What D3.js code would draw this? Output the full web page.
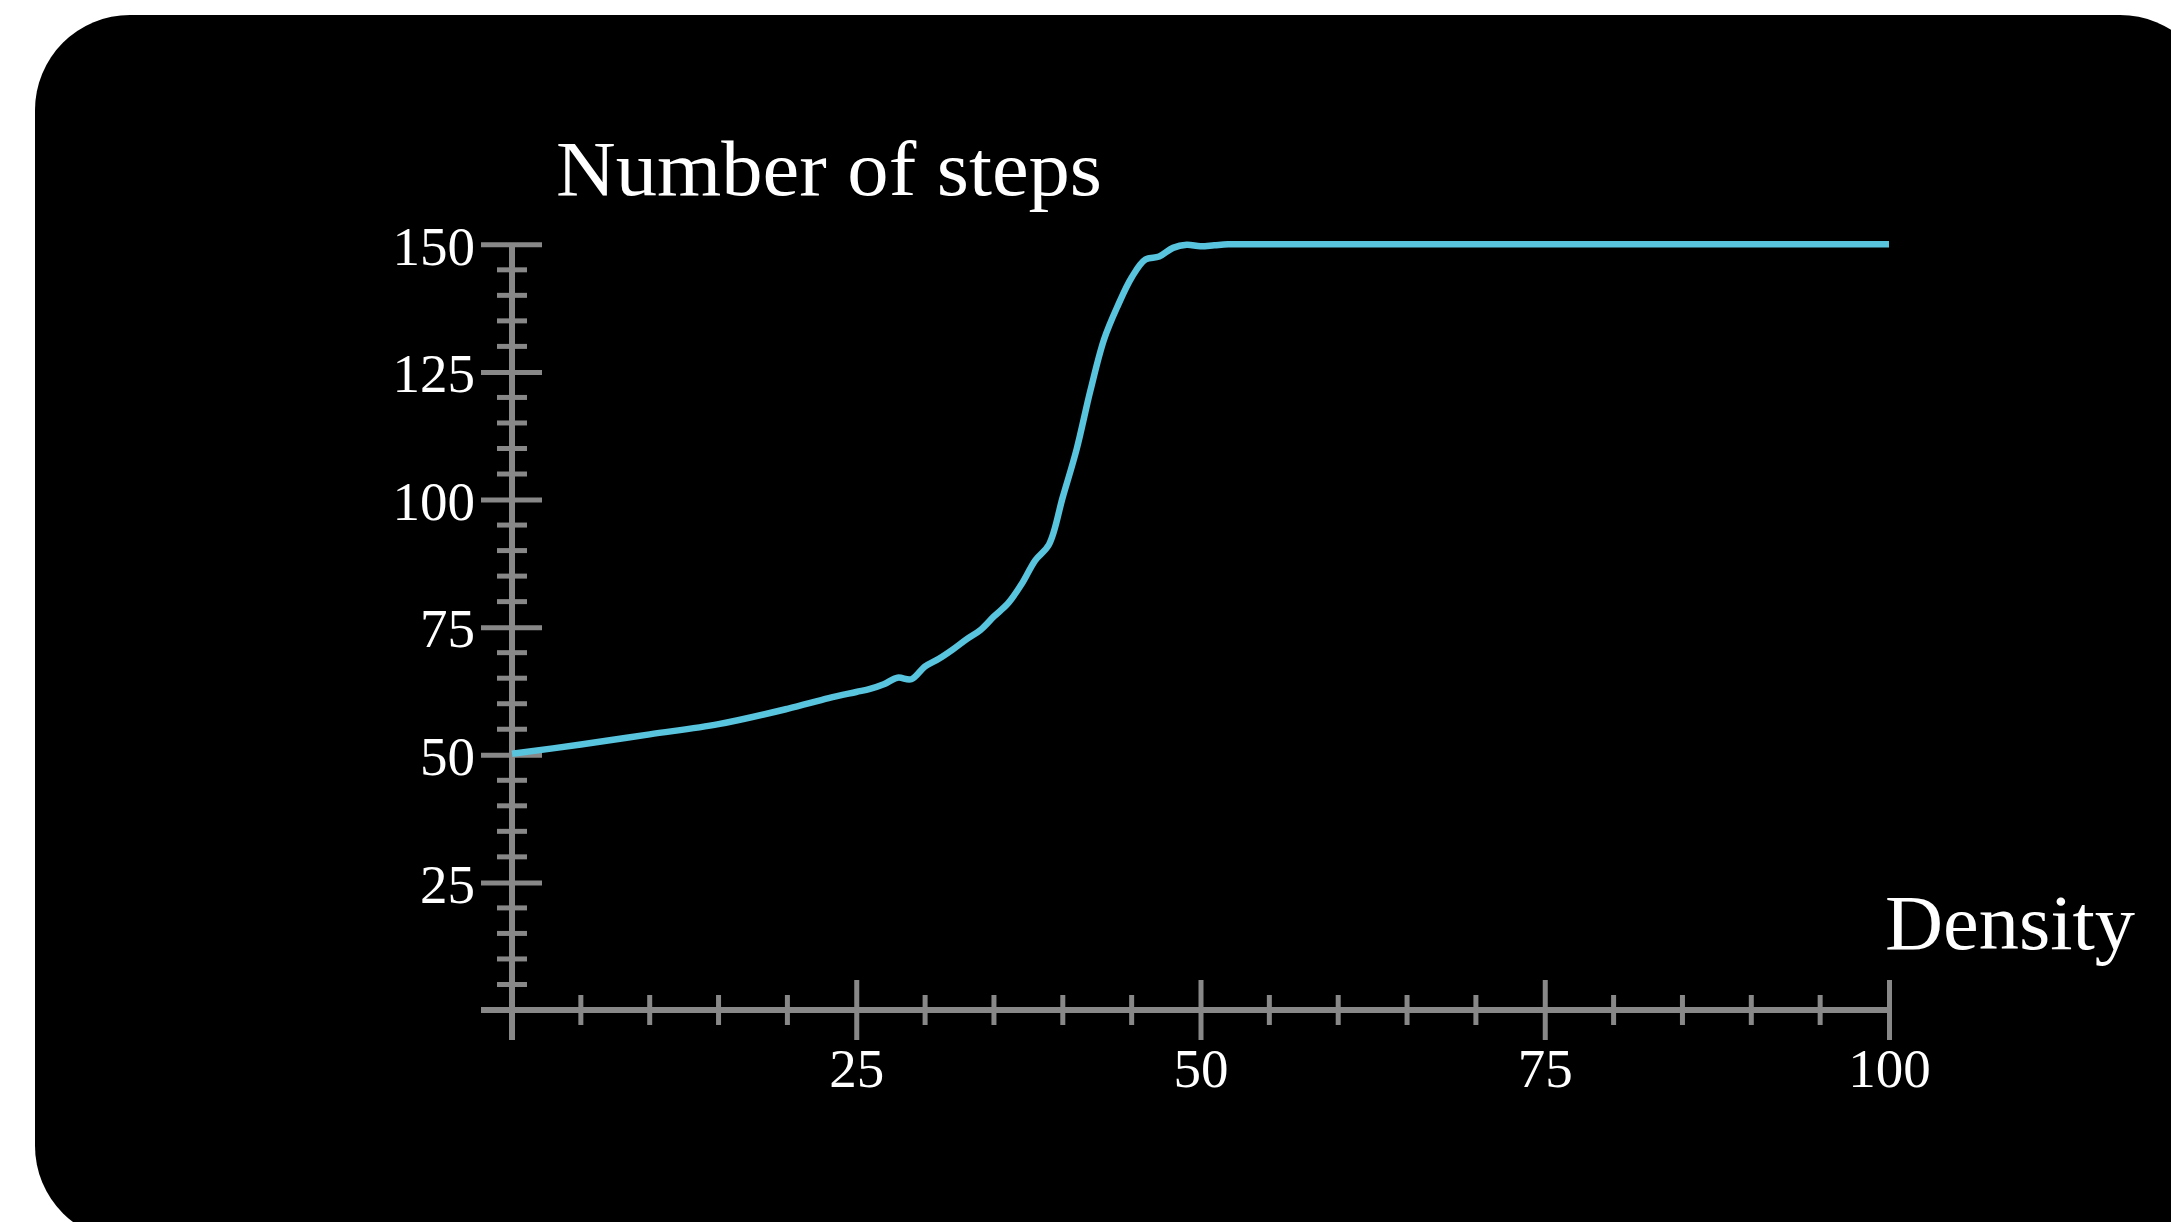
<!DOCTYPE html>
<html>
<head>
<meta charset="utf-8">
<script src="https://cdn.jsdelivr.net/npm/d3@7"></script>
<style>
  html, body { margin: 0; padding: 0; background: #fff; overflow: hidden; }
  svg { display: block; }
</style>
</head>
<body>
<script>
// ---- data ----
const densities = [0, 5, 10, 15, 20, 23, 25, 26, 27, 28, 29, 30, 31, 32, 33, 34, 35, 36, 37, 38, 39, 40, 41, 42, 43, 44, 45, 46, 47, 48, 49, 50, 51, 52, 55, 60, 65, 70, 75, 80, 85, 90, 95, 100];
const steps     = [50.2, 52.0, 54.0, 56.0, 59.0, 61.1, 62.3, 62.9, 63.8, 65.1, 64.8, 67.3, 68.8, 70.6, 72.6, 74.4, 77.1, 79.6, 83.4, 88.1, 91.2, 100.5, 109.8, 121.3, 131.4, 138.0, 143.5, 147.0, 147.6, 149.3, 149.9, 149.6, 149.8, 150, 150, 150, 150, 150, 150, 150, 150, 150, 150, 150];
const xMajorTicks = [25, 50, 75, 100];
const yMajorTicks = [25, 50, 75, 100, 125, 150];
const xMinorTicks = d3.range(5, 100, 5).filter(v => v % 25 !== 0);
const yMinorTicks = d3.range(5, 150, 5).filter(v => v % 25 !== 0);
const yTitle = "Number of steps";
const xTitle = "Density";

// ---- layout ----
const W = 2171, H = 1222;
const AX = "#888888", LINE = "#58C4DD";
const FONT = "'Liberation Serif', 'DejaVu Serif', serif";

const svg = d3.select("body").append("svg").attr("width", W).attr("height", H);
svg.append("rect").attr("x", 35).attr("y", 15).attr("width", 2180).attr("height", 1226)
   .attr("rx", 95).attr("ry", 95).attr("fill", "#000");

const x = d3.scaleLinear().domain([0, 100]).range([512, 1889]);
const y = d3.scaleLinear().domain([0, 150]).range([1010, 244.3]);

const g = svg.append("g");

// axis lines
g.append("line").attr("x1", x(0)).attr("x2", x(0)).attr("y1", y(0) + 30).attr("y2", y(150))
 .attr("stroke", AX).attr("stroke-width", 6);
g.append("line").attr("x1", x(0) - 31).attr("x2", x(100)).attr("y1", y(0)).attr("y2", y(0))
 .attr("stroke", AX).attr("stroke-width", 6);

// y axis via d3.axis, then make ticks symmetric
const yAxis = d3.axisLeft(y).tickValues(yMajorTicks).tickSize(30).tickPadding(8).tickFormat(d3.format("d"));
const yg = g.append("g").attr("transform", `translate(${x(0)},0)`).call(yAxis);
yg.select(".domain").remove();
yg.selectAll(".tick line").attr("x1", -31).attr("x2", 30).attr("stroke", AX).attr("stroke-width", 5);
yg.selectAll(".tick text").attr("x", -37).attr("dy", "0.36em")
  .attr("fill", "#fff").style("font-family", FONT).style("font-size", "55px").attr("text-anchor", "end");

g.append("g").selectAll("line").data(yMinorTicks).join("line")
 .attr("x1", x(0) - 15).attr("x2", x(0) + 15).attr("y1", d => y(d)).attr("y2", d => y(d))
 .attr("stroke", AX).attr("stroke-width", 5);

// x axis
const xAxis = d3.axisBottom(x).tickValues(xMajorTicks).tickSize(30).tickFormat(d3.format("d"));
const xg = g.append("g").attr("transform", `translate(0,${y(0)})`).call(xAxis);
xg.select(".domain").remove();
xg.selectAll(".tick line").attr("y1", -30).attr("y2", 30).attr("stroke", AX).attr("stroke-width", 5);
xg.selectAll(".tick text").attr("y", 77).attr("dy", 0)
  .attr("fill", "#fff").style("font-family", FONT).style("font-size", "55px");

g.append("g").selectAll("line").data(xMinorTicks).join("line")
 .attr("x1", d => x(d)).attr("x2", d => x(d)).attr("y1", y(0) - 15).attr("y2", y(0) + 15)
 .attr("stroke", AX).attr("stroke-width", 5);

// titles
svg.append("text").attr("x", 556).attr("y", 195).text(yTitle)
   .attr("fill", "#fff").style("font-family", FONT).style("font-size", "79px")
   .attr("textLength", 546).attr("lengthAdjust", "spacingAndGlyphs");
svg.append("text").attr("x", 1885).attr("y", 949).text(xTitle)
   .attr("fill", "#fff").style("font-family", FONT).style("font-size", "79px")
   .attr("textLength", 250).attr("lengthAdjust", "spacingAndGlyphs");

// curve
const pts = densities.map((d, i) => [d, steps[i]]);
const line = d3.line().x(d => x(d[0])).y(d => y(d[1])).curve(d3.curveCatmullRom.alpha(0.5));
svg.append("path").datum(pts).attr("d", line)
   .attr("fill", "none").attr("stroke", LINE).attr("stroke-width", 6.5)
   .attr("stroke-linejoin", "round").attr("stroke-linecap", "butt");
</script>
</body>
</html>
